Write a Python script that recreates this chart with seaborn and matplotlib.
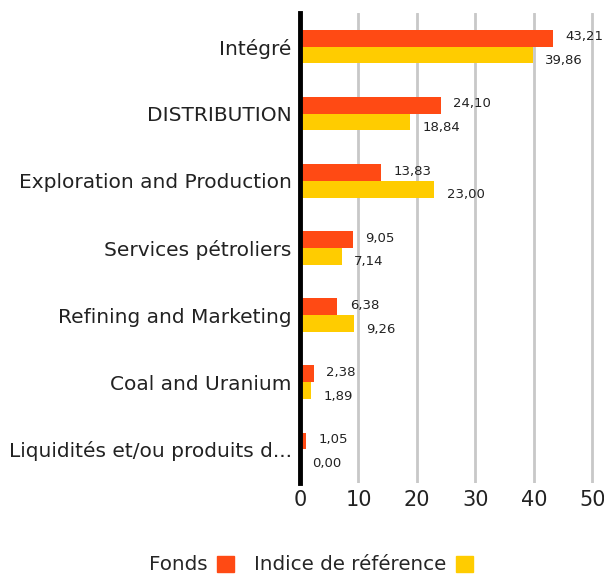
import pandas as pd
import matplotlib.pyplot as plt
import seaborn as sns
from matplotlib.patches import Patch

secteurs = ["Intégré", "DISTRIBUTION", "Exploration and Production",
            "Services pétroliers", "Refining and Marketing",
            "Coal and Uranium", "Liquidités et/ou produits d..."]
fonds = [43.21, 24.10, 13.83, 9.05, 6.38, 2.38, 1.05]
indice = [39.86, 18.84, 23.00, 7.14, 9.26, 1.89, 0.00]
series = ["Fonds", "Indice de référence"]
couleurs = ["#FF4A14", "#FFCC00"]

df = pd.DataFrame({
    "secteur": secteurs * 2,
    "valeur": fonds + indice,
    "serie": [series[0]] * len(secteurs) + [series[1]] * len(secteurs),
})

sns.set_style("white")
plt.rcParams["font.family"] = ["DejaVu Sans"]

fig = plt.figure(figsize=(6.04, 5.79), dpi=100)
ax = fig.add_axes([300 / 604, 1 - 483 / 579, 294 / 604, 470 / 579])

sns.barplot(data=df, y="secteur", x="valeur", hue="serie", orient="h",
            palette=couleurs, width=0.5, saturation=1, ax=ax, legend=False,
            linewidth=0, edgecolor="none")

# décalage vertical des étiquettes (orange un peu au-dessus, jaune en dessous)
decalages = [1, -4]
for container, dy in zip(ax.containers, decalages):
    textes = ax.bar_label(container,
                          labels=[f"{v:.2f}".replace(".", ",") for v in container.datavalues],
                          padding=9, fontsize=9.5, color="#222222")
    for t in textes:
        t.xyann = (9, dy)

ax.set_xlim(0, 50.3)
ax.set_ylim(6.5, -0.5)
ax.set_xticks([0, 10, 20, 30, 40, 50])
ax.xaxis.grid(True, color="#c8c8c8", linewidth=2)
ax.set_axisbelow(True)
ax.set_xlabel("")
ax.set_ylabel("")
for s in ["top", "right", "bottom"]:
    ax.spines[s].set_visible(False)
ax.spines["left"].set_color("black")
ax.spines["left"].set_linewidth(3.5)
ax.tick_params(axis="both", length=0, colors="#222222")
ax.tick_params(axis="y", labelsize=14.5, pad=6)
ax.tick_params(axis="x", labelsize=15, pad=5)

handles = [Patch(color=c) for c in couleurs]
fig.legend(handles, series, loc="center", bbox_to_anchor=(311 / 604, 1 - 565 / 579),
           ncol=2, frameon=False, markerfirst=False, fontsize=14.3,
           handlelength=0.85, handleheight=0.85, columnspacing=1.0, handletextpad=0.5)

fig.savefig("out.png", dpi=100)
